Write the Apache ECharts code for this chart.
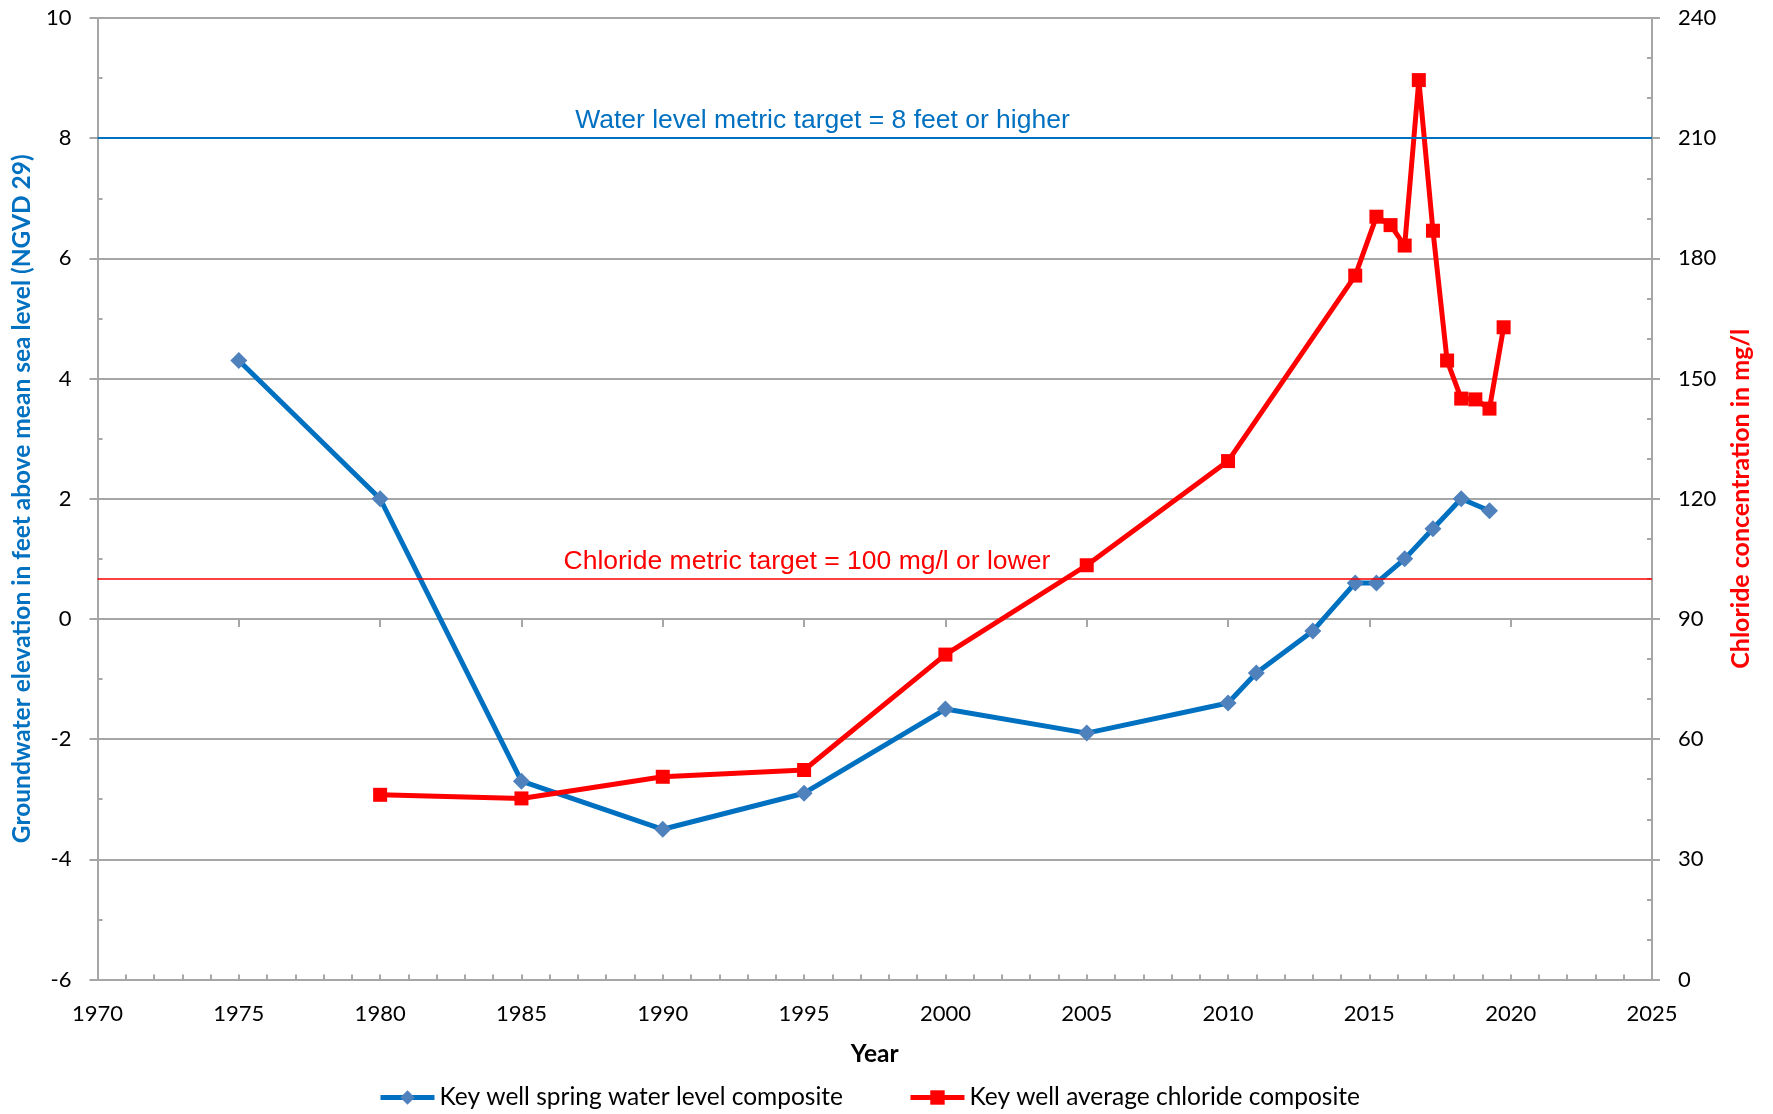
<!DOCTYPE html>
<html><head><meta charset="utf-8">
<script src="https://cdn.jsdelivr.net/npm/echarts@6/dist/echarts.min.js"></script>
<style>html,body{margin:0;padding:0;background:#fff}#c{width:1773px;height:1114px}</style>
</head><body><div id="c"></div>
<script>
// ---- data ----
const waterYears = [1975,1980,1985,1990,1995,2000,2005,2010,2011,2013,2014.5,2015.25,2016.25,2017.25,2018.25,2019.25];
const waterLevel = [4.3,2.0,-2.7,-3.5,-2.9,-1.5,-1.9,-1.4,-0.9,-0.2,0.6,0.6,1.0,1.5,2.0,1.8];
const chlorideYears = [1980,1985,1990,1995,2000,2005,2010,2014.5,2015.25,2015.75,2016.25,2016.75,2017.25,2017.75,2018.25,2018.75,2019.25,2019.75];
const chloride = [46.1,45.2,50.6,52.3,81.1,103.4,129.4,175.7,190.4,188.3,183.2,224.5,186.9,154.5,145.0,144.8,142.5,162.8];
const waterTarget = 8;
const chlorideTarget = 100;
const waterTargetLabel = 'Water level metric target = 8 feet or higher';
const chlorideTargetLabel = 'Chloride metric target = 100 mg/l or lower';
const seriesNames = ['Key well spring water level composite', 'Key well average chloride composite'];
const leftTitle = 'Groundwater elevation in feet above mean sea level (NGVD 29)';
const rightTitle = 'Chloride concentration in mg/l';
const xTitle = 'Year';
const xRange = [1970, 2025, 5];
const leftRange = [-6, 10, 2];
const rightRange = [0, 240, 30];

// ---- style ----
const GRAY = '#a6a6a6';
const BLUE = '#0070C0';
const RED = '#FF0000';
const TICKFONT = 'Lato';
const TICKSIZE = 22;

const chart = echarts.init(document.getElementById('c'), null, {renderer: 'canvas'});

function mainAxis(extra) {
  return Object.assign({
    type: 'value',
    axisLine: {show: true, lineStyle: {color: GRAY, width: 2}},
    axisTick: {show: true, inside: false, length: 8, lineStyle: {color: GRAY, width: 2}},
    minorTick: {show: false},
    axisLabel: {color: '#000', fontFamily: TICKFONT, fontSize: TICKSIZE, margin: 26},
    splitLine: {show: false}
  }, extra);
}
function overlayAxis(extra, minorN) {
  return Object.assign({
    type: 'value',
    axisLine: {show: false},
    axisTick: {show: true, inside: true, length: 5, lineStyle: {color: GRAY, width: 2}},
    minorTick: {show: true, splitNumber: minorN, length: 5, lineStyle: {color: GRAY, width: 2}},
    axisLabel: {show: false},
    splitLine: {show: false}
  }, extra);
}
function targetLabel(text, color, endX, y) {
  return [{coord: [xRange[0], y], lineStyle: {color: 'rgba(0,0,0,0)', width: 1, opacity: 1},
           label: {show: true, position: 'insideMiddleTop', formatter: text, color: color, opacity: 1,
                   fontFamily: 'Liberation Sans', fontSize: 26.5, distance: 4}},
          {coord: [endX, y]}];
}

const option = {
  backgroundColor: '#fff',
  animation: false,
  grid: {left: 97.5, right: 121, top: 18, bottom: 134.5, containLabel: false, outerBoundsMode: 'none'},
  legend: {
    left: 378, top: 1085, padding: 0,
    itemWidth: 54, itemHeight: 18, itemGap: 65,
    lineStyle: {width: 5},
    textStyle: {fontFamily: TICKFONT, fontSize: 24.5, color: '#000'},
    data: seriesNames
  },
  xAxis: [
    mainAxis({
      position: 'bottom', min: xRange[0], max: xRange[1], interval: xRange[2],
      axisLabel: {color: '#000', fontFamily: TICKFONT, fontSize: TICKSIZE, margin: 23, formatter: v => String(v)},
      name: xTitle, nameLocation: 'middle', nameGap: 62,
      nameTextStyle: {fontFamily: TICKFONT, fontSize: 24.5, fontWeight: 'bold', color: '#000'}
    }),
    overlayAxis({position: 'bottom', min: xRange[0], max: xRange[1], interval: xRange[2]}, 5)
  ],
  yAxis: [
    mainAxis({
      position: 'left', min: leftRange[0], max: leftRange[1], interval: leftRange[2],
      splitLine: {show: true, lineStyle: {color: GRAY, width: 2}},
      name: leftTitle, nameLocation: 'middle', nameGap: 61, nameRotate: 90,
      nameTextStyle: {fontFamily: TICKFONT, fontSize: 24.5, fontWeight: 'bold', color: BLUE}
    }),
    mainAxis({
      position: 'right', min: rightRange[0], max: rightRange[1], interval: rightRange[2],
      name: rightTitle, nameLocation: 'middle', nameGap: 76, nameRotate: 90,
      nameTextStyle: {fontFamily: TICKFONT, fontSize: 25, fontWeight: 'bold', color: RED}
    }),
    overlayAxis({position: 'left', min: leftRange[0], max: leftRange[1], interval: leftRange[2]}, 2),
    overlayAxis({position: 'right', min: rightRange[0], max: rightRange[1], interval: rightRange[2]}, 3)
  ],
  series: [
    {
      name: seriesNames[0], type: 'line', xAxisIndex: 0, yAxisIndex: 0,
      data: waterYears.map((y, i) => [y, waterLevel[i]]),
      symbol: 'diamond', symbolSize: 17,
      lineStyle: {color: BLUE, width: 5},
      itemStyle: {color: '#4F81BD'},
      z: 3,
      markLine: {
        silent: true, symbol: 'none', z: 6,
        data: [
          [{coord: [xRange[0], waterTarget], lineStyle: {color: BLUE, width: 2, type: 'solid'}, label: {show: false}},
           {coord: [xRange[1], waterTarget]}],
          targetLabel(waterTargetLabel, BLUE, 2021.3, waterTarget)
        ]
      }
    },
    {
      name: seriesNames[1], type: 'line', xAxisIndex: 0, yAxisIndex: 1,
      data: chlorideYears.map((y, i) => [y, chloride[i]]),
      symbol: 'rect', symbolSize: 14,
      lineStyle: {color: RED, width: 5},
      itemStyle: {color: RED},
      z: 4,
      markLine: {
        silent: true, symbol: 'none', z: 6,
        data: [
          [{coord: [xRange[0], chlorideTarget], lineStyle: {color: RED, width: 1.5, type: 'solid'}, label: {show: false}},
           {coord: [xRange[1], chlorideTarget]}],
          targetLabel(chlorideTargetLabel, RED, 2020.2, chlorideTarget)
        ]
      }
    }
  ]
};
chart.setOption(option);
</script></body></html>
